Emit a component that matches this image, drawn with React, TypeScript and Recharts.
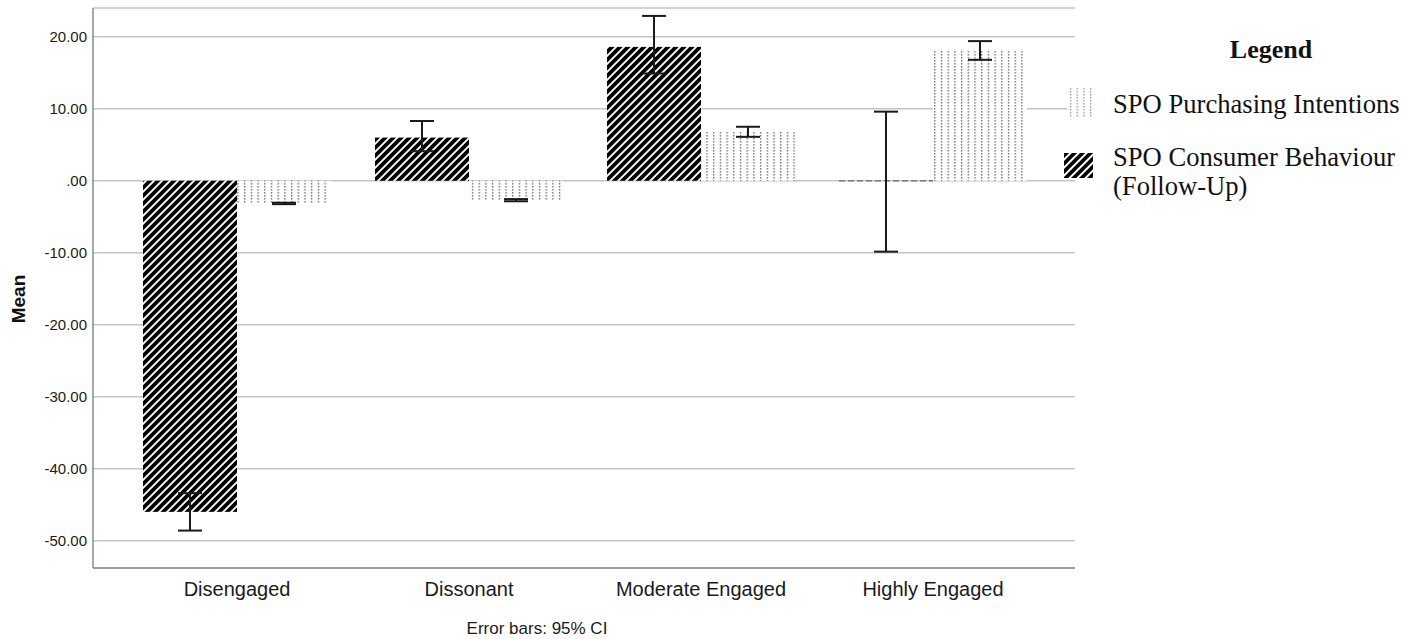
import React from 'react';
import { BarChart, Bar, XAxis, YAxis, CartesianGrid, ErrorBar, Legend } from 'recharts';

const categories = ['Disengaged', 'Dissonant', 'Moderate Engaged', 'Highly Engaged'];
const behaviourMean = [-46.0, 6.0, 18.6, 0];
const behaviourErr = [[2.6, 2.6], [1.9, 2.3], [3.7, 4.3], [9.85, 9.6]];
const purchasingMean = [-3.15, -2.7, 6.8, 18.2];
const purchasingErr = [[0.1, 0.1], [0.15, 0.15], [0.7, 0.7], [1.4, 1.2]];
const yTicks = [-50, -40, -30, -20, -10, 0, 10, 20];
const seriesNames = ['SPO Purchasing Intentions', 'SPO Consumer Behaviour', '(Follow-Up)'];
const legendTitle = 'Legend';
const footnote = 'Error bars: 95% CI';
const yLabel = 'Mean';

const data = categories.map((c, i) => ({
  name: c,
  behaviour: behaviourMean[i],
  behaviourErr: behaviourErr[i],
  purchasing: purchasingMean[i],
  purchasingErr: purchasingErr[i],
}));

const SANS = '"Liberation Sans", Arial, sans-serif';
const SERIF = '"Liberation Serif", "Times New Roman", serif';

const PatternDefs = () => (
  <defs>
    <pattern id="stripes" patternUnits="userSpaceOnUse" width="5.66" height="10" patternTransform="rotate(45)">
      <rect x="0" y="0" width="5.66" height="10" fill="#ffffff" />
      <rect x="0" y="0" width="3.7" height="10" fill="#000000" />
    </pattern>
    <pattern id="dots" patternUnits="userSpaceOnUse" width="6.7" height="3">
      <rect x="0" y="0" width="6.7" height="3" fill="#ffffff" />
      <rect x="3" y="0" width="1.1" height="1.6" fill="#5a5a5a" />
    </pattern>
  </defs>
);

const BarShape = (props: any) => {
  const { x, y, width, height, fill } = props;
  const h = Math.abs(height || 0);
  const y0 = Math.min(y, y + (height || 0));
  if (h < 0.5) {
    return <line x1={x} x2={x + width} y1={y} y2={y} stroke="#777" strokeWidth={1.5} strokeDasharray="6 3" />;
  }
  return <rect x={x} y={y0} width={width} height={h} fill={fill} />;
};

const renderLegend = () => (
  <div style={{ position: 'relative', width: 1418, height: 639, fontFamily: SERIF, color: '#111' }}>
    <div style={{ position: 'absolute', left: 1171, width: 200, top: 37, textAlign: 'center', fontWeight: 'bold', fontSize: 26, lineHeight: '26px' }}>
      {legendTitle}
    </div>
    <svg style={{ position: 'absolute', left: 1067, top: 88 }} width={25} height={30}>
      <defs>
        <pattern id="ldots" patternUnits="userSpaceOnUse" width="6.7" height="3">
          <rect x="0" y="0" width="6.7" height="3" fill="#ffffff" />
          <rect x="3" y="0" width="1.1" height="1.6" fill="#8a8a8a" />
        </pattern>
      </defs>
      <rect x={0} y={0} width={25} height={30} fill="url(#ldots)" />
    </svg>
    <div style={{ position: 'absolute', left: 1113, top: 91, fontSize: 26.6, lineHeight: '26px', whiteSpace: 'nowrap' }}>
      {seriesNames[0]}
    </div>
    <svg style={{ position: 'absolute', left: 1064, top: 153 }} width={29} height={25}>
      <defs>
        <pattern id="lstripes" patternUnits="userSpaceOnUse" width="5.66" height="10" patternTransform="rotate(45)">
          <rect x="0" y="0" width="5.66" height="10" fill="#ffffff" />
          <rect x="0" y="0" width="3.7" height="10" fill="#000000" />
        </pattern>
      </defs>
      <rect x={0} y={0} width={29} height={25} fill="url(#lstripes)" />
    </svg>
    <div style={{ position: 'absolute', left: 1113, top: 143, fontSize: 26.6, lineHeight: '29px', whiteSpace: 'nowrap' }}>
      <div>{seriesNames[1]}</div>
      <div>{seriesNames[2]}</div>
    </div>
  </div>
);

const fmt = (v: number) => (v === 0 ? '.00' : v.toFixed(2));

export default function App() {
  return (
    <div style={{ position: 'absolute', left: 0, top: 0, width: 1418, height: 639, background: '#fff' }}>
      <BarChart
        width={1418}
        height={639}
        data={data}
        margin={{ top: 8, right: 343, bottom: 0, left: 0 }}
        barGap={0}
        barSize={94}
        style={{ fontFamily: SANS }}
      >
        <PatternDefs />
        <CartesianGrid vertical={false} stroke="#c4c4c4" strokeWidth={1.5} />
        <XAxis
          dataKey="name"
          height={71}
          padding={{ left: 28, right: 26 }}
          tickLine={false}
          tickSize={6}
          tickMargin={8}
          axisLine={{ stroke: '#8a8a8a', strokeWidth: 1.5 }}
          tick={{ fontSize: 20, fill: '#1a1a1a', fontFamily: SANS }}
          interval={0}
          label={{
            content: () => (
              <text x={537} y={634} textAnchor="middle" fontSize={17} fill="#1a1a1a" fontFamily={SANS}>
                {footnote}
              </text>
            ),
          }}
        />
        <YAxis
          width={93}
          domain={[-53.8, 24]}
          ticks={yTicks}
          interval={0}
          tickFormatter={fmt}
          tickLine={false}
          tickSize={4}
          tickMargin={2}
          axisLine={{ stroke: '#8a8a8a', strokeWidth: 1.5 }}
          tick={{ fontSize: 15, fill: '#1a1a1a', fontFamily: SANS }}
          label={{
            content: () => (
              <text x={25} y={299} transform="rotate(-90 25 299)" textAnchor="middle" fontSize={19} fontWeight="bold" fill="#111" fontFamily={SANS}>
                {yLabel}
              </text>
            ),
          }}
        />
        <Legend
          layout="horizontal"
          verticalAlign="middle"
          align="center"
          wrapperStyle={{ left: 0, top: 0, width: 1418, height: 639, pointerEvents: 'none' }}
          content={renderLegend}
        />
        <Bar dataKey="behaviour" name={seriesNames[1]} fill="url(#stripes)" shape={BarShape} isAnimationActive={false}>
          <ErrorBar dataKey="behaviourErr" width={12} stroke="#1a1a1a" strokeWidth={2} />
        </Bar>
        <Bar dataKey="purchasing" name={seriesNames[0]} fill="url(#dots)" shape={BarShape} isAnimationActive={false}>
          <ErrorBar dataKey="purchasingErr" width={12} stroke="#1a1a1a" strokeWidth={2} />
        </Bar>
      </BarChart>
    </div>
  );
}
